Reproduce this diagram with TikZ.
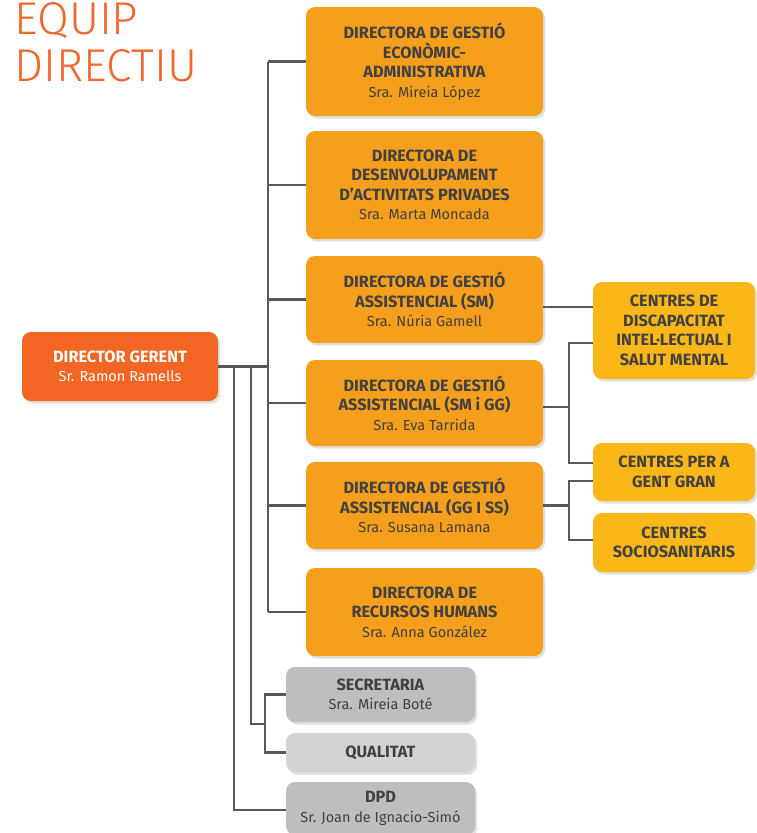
\documentclass[tikz,border=0pt]{standalone}
\usepackage{fontspec}
\setmainfont{Fira Sans}
\newfontfamily\titlefont{Fira Sans Light}
\usetikzlibrary{shadows}
\definecolor{gerentorange}{RGB}{242,101,34}
\definecolor{dirorange}{RGB}{246,159,28}
\definecolor{centreyellow}{RGB}{251,182,24}
\definecolor{secgray}{RGB}{188,190,192}
\definecolor{qualgray}{RGB}{209,211,212}
\definecolor{linkgray}{RGB}{88,89,91}
\definecolor{textgray}{RGB}{65,64,66}
\definecolor{titleorange}{RGB}{242,104,44}
\newcommand{\who}[1]{{\mdseries\fontsize{14.5}{19.5}\selectfont #1}}

\begin{document}
\begin{tikzpicture}[x=1pt,y=1pt,yscale=-1,
  box/.style={rounded corners=9pt, align=center, text=textgray, inner sep=0pt,
    font=\bfseries\fontsize{16.3}{19.5}\selectfont,
    drop shadow={shadow xshift=2pt, shadow yshift=-2.5pt, fill=black, opacity=0.12}},
  dirbox/.style={box, fill=dirorange, minimum width=237pt},
  centrebox/.style={box, fill=centreyellow, minimum width=162pt},
  graybox/.style={box, minimum width=189pt},
  link/.style={draw=linkgray, line width=2.7pt}]
\useasboundingbox (0,0) rectangle (756,833); %page is 756 wide, 833 high

% Text Node (base is the baseline of the last line)
\node [anchor=base west, inner sep=0pt, align=left, text=titleorange, font=\titlefont\fontsize{46}{47}\selectfont] (title) at (14,81) {EQUIP\\DIRECTIU};

%Shape: Rounded Rect
\node [box, fill=gerentorange, text=white, minimum width=196pt, minimum height=69pt] (gerent) at (120,366.5) {DIRECTOR GERENT\\\who{Sr. Ramon Ramells}};

%Shape: Rounded Rect
\node [dirbox, minimum height=109pt] (dirA) at (424.5,61.5) {DIRECTORA DE GESTIÓ\\ECONÒMIC-\\ADMINISTRATIVA\\\who{Sra. Mireia López}};
\node [dirbox, minimum height=108pt] (dirB) at (424.5,185) {DIRECTORA DE\\DESENVOLUPAMENT\\D’ACTIVITATS PRIVADES\\\who{Sra. Marta Moncada}};
\node [dirbox, minimum height=87pt] (dirC) at (424.5,299.5) {DIRECTORA DE GESTIÓ\\ASSISTENCIAL (SM)\\\who{Sra. Núria Gamell}};
\node [dirbox, minimum height=86pt] (dirD) at (424.5,403) {DIRECTORA DE GESTIÓ\\ASSISTENCIAL (SM i GG)\\\who{Sra. Eva Tarrida}};
\node [dirbox, minimum height=87pt] (dirE) at (424.5,505.5) {DIRECTORA DE GESTIÓ\\ASSISTENCIAL (GG I SS)\\\who{Sra. Susana Lamana}};
\node [dirbox, minimum height=88pt] (dirF) at (424.5,612) {DIRECTORA DE\\RECURSOS HUMANS\\\who{Sra. Anna González}};

%Shape: Rounded Rect
\node [centrebox, minimum height=97pt] (cdi) at (674,330.5) {CENTRES DE\\DISCAPACITAT\\INTEL·LECTUAL I\\SALUT MENTAL};
\node [centrebox, minimum height=58pt] (gent) at (674,472) {CENTRES PER A\\GENT GRAN};
\node [centrebox, minimum height=59pt] (socio) at (674,542.5) {CENTRES\\SOCIOSANITARIS};

%Shape: Rounded Rect
\node [graybox, fill=secgray, minimum height=55pt] (secretaria) at (380.5,694.5) {SECRETARIA\\\who{Sra. Mireia Boté}};
\node [graybox, fill=qualgray, minimum height=39pt] (qualitat) at (380.5,752.5) {QUALITAT};
\node [graybox, fill=secgray, minimum height=53pt] (dpd) at (380.5,808.5) {DPD\\\who{Sr. Joan de Ignacio-Simó}};

\coordinate (bus) at (268,0);
\coordinate (busS) at (251,0);
\coordinate (busQ) at (265,0);
\coordinate (busD) at (234,0);
\coordinate (busR) at (569,0);

%Straight Lines
\draw [link] (gerent.east) -- (gerent.east -| bus);
\draw [link] (dirA.west -| bus) -- (dirF.west -| bus);
\foreach \d in {dirA,dirB,dirC,dirD,dirE,dirF}
  \draw [link] (\d.west) -- (\d.west -| bus);
\draw [link] (gerent.east -| busD) |- (dpd.west |- 0,810);
\draw [link] (gerent.east -| busS) |- (busQ |- 0,724);
\draw [link] (secretaria.west) -| (busQ |- qualitat.west) -- (qualitat.west);

%Straight Lines
\draw [link] (dirC.east |- 0,307) -- (cdi.west |- 0,307);
\draw [link] (dirD.east |- 0,407) -- (busR |- 0,407);
\draw [link] (cdi.west |- 0,343) -| (busR |- 0,463) -- (gent.west |- 0,463);
\draw [link] (dirE.east) -- (dirE.east -| busR);
\draw [link] (gent.west |- 0,481) -| (busR |- 0,540) -- (socio.west |- 0,540);

\end{tikzpicture}
\end{document}
